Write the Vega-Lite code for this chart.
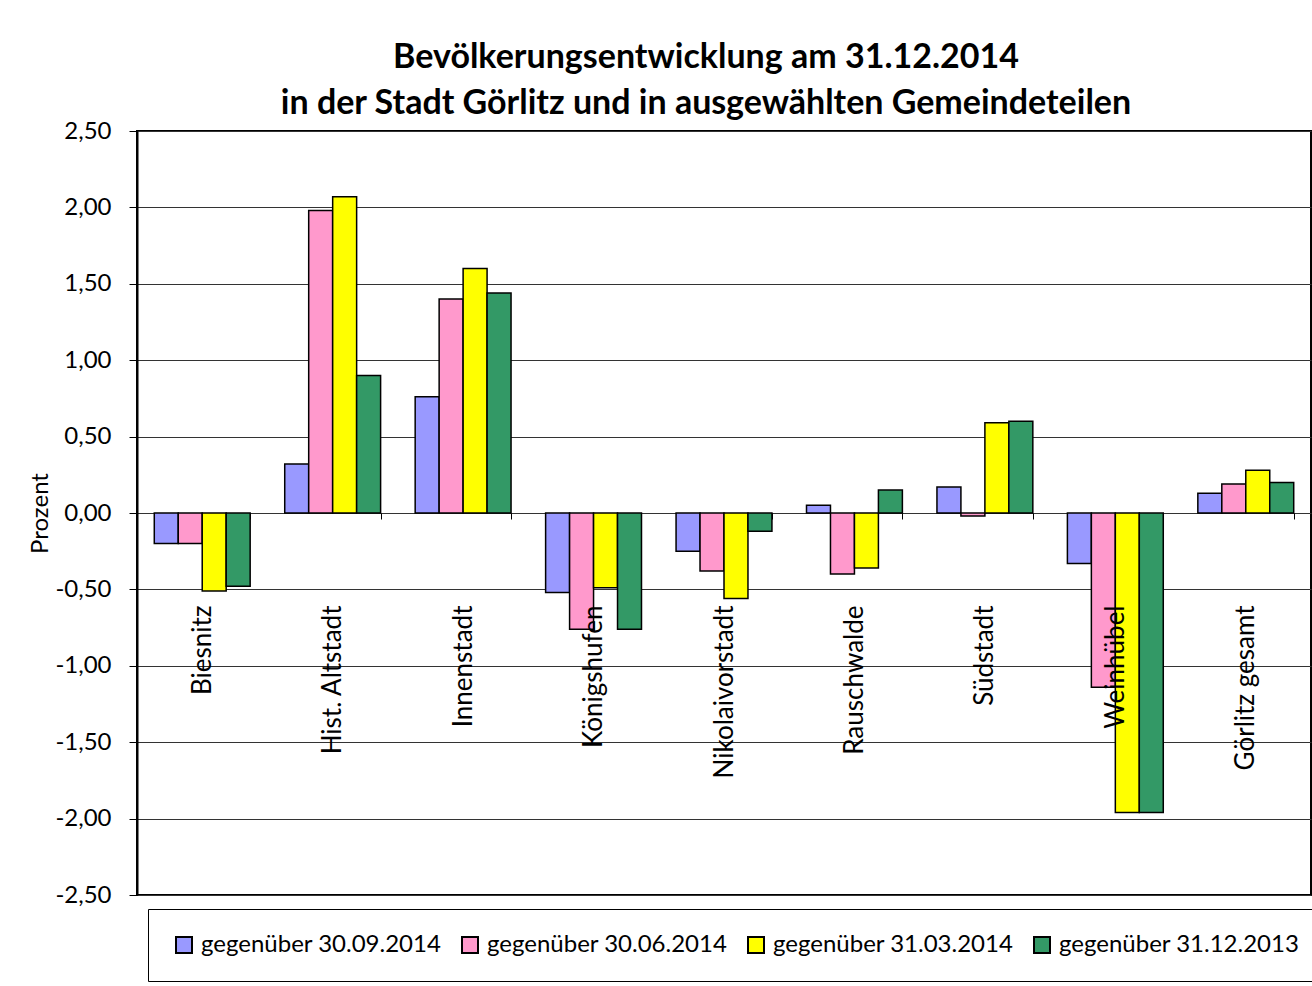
{
  "$schema": "https://vega.github.io/schema/vega-lite/v6.json",
  "autosize": {"type": "none"},
  "padding": {"left": 137, "top": 131, "right": 1, "bottom": 91},
  "width": 1174,
  "height": 764,
  "background": "white",
  "config": {
    "font": "Lato",
    "locale": {"number": {"decimal": ",", "thousands": ".", "grouping": [3], "currency": ["", " €"], "minus": "-"}},
    "view": {"stroke": "#000", "strokeWidth": 2}
  },
  "title": {
    "text": ["Bevölkerungsentwicklung am 31.12.2014", "in der Stadt Görlitz und in ausgewählten Gemeindeteilen"],
    "fontSize": 34,
    "fontWeight": "bold",
    "color": "#000",
    "lineHeight": 46,
    "anchor": "middle",
    "frame": "group",
    "dx": -18,
    "offset": -2
  },
  "data": {
    "values": [
      {"teil": "Biesnitz", "serie": "gegenüber 30.09.2014", "wert": -0.20},
      {"teil": "Biesnitz", "serie": "gegenüber 30.06.2014", "wert": -0.20},
      {"teil": "Biesnitz", "serie": "gegenüber 31.03.2014", "wert": -0.51},
      {"teil": "Biesnitz", "serie": "gegenüber 31.12.2013", "wert": -0.48},
      {"teil": "Hist. Altstadt", "serie": "gegenüber 30.09.2014", "wert": 0.32},
      {"teil": "Hist. Altstadt", "serie": "gegenüber 30.06.2014", "wert": 1.98},
      {"teil": "Hist. Altstadt", "serie": "gegenüber 31.03.2014", "wert": 2.07},
      {"teil": "Hist. Altstadt", "serie": "gegenüber 31.12.2013", "wert": 0.90},
      {"teil": "Innenstadt", "serie": "gegenüber 30.09.2014", "wert": 0.76},
      {"teil": "Innenstadt", "serie": "gegenüber 30.06.2014", "wert": 1.40},
      {"teil": "Innenstadt", "serie": "gegenüber 31.03.2014", "wert": 1.60},
      {"teil": "Innenstadt", "serie": "gegenüber 31.12.2013", "wert": 1.44},
      {"teil": "Königshufen", "serie": "gegenüber 30.09.2014", "wert": -0.52},
      {"teil": "Königshufen", "serie": "gegenüber 30.06.2014", "wert": -0.76},
      {"teil": "Königshufen", "serie": "gegenüber 31.03.2014", "wert": -0.49},
      {"teil": "Königshufen", "serie": "gegenüber 31.12.2013", "wert": -0.76},
      {"teil": "Nikolaivorstadt", "serie": "gegenüber 30.09.2014", "wert": -0.25},
      {"teil": "Nikolaivorstadt", "serie": "gegenüber 30.06.2014", "wert": -0.38},
      {"teil": "Nikolaivorstadt", "serie": "gegenüber 31.03.2014", "wert": -0.56},
      {"teil": "Nikolaivorstadt", "serie": "gegenüber 31.12.2013", "wert": -0.12},
      {"teil": "Rauschwalde", "serie": "gegenüber 30.09.2014", "wert": 0.05},
      {"teil": "Rauschwalde", "serie": "gegenüber 30.06.2014", "wert": -0.40},
      {"teil": "Rauschwalde", "serie": "gegenüber 31.03.2014", "wert": -0.36},
      {"teil": "Rauschwalde", "serie": "gegenüber 31.12.2013", "wert": 0.15},
      {"teil": "Südstadt", "serie": "gegenüber 30.09.2014", "wert": 0.17},
      {"teil": "Südstadt", "serie": "gegenüber 30.06.2014", "wert": -0.02},
      {"teil": "Südstadt", "serie": "gegenüber 31.03.2014", "wert": 0.59},
      {"teil": "Südstadt", "serie": "gegenüber 31.12.2013", "wert": 0.60},
      {"teil": "Weinhübel", "serie": "gegenüber 30.09.2014", "wert": -0.33},
      {"teil": "Weinhübel", "serie": "gegenüber 30.06.2014", "wert": -1.14},
      {"teil": "Weinhübel", "serie": "gegenüber 31.03.2014", "wert": -1.96},
      {"teil": "Weinhübel", "serie": "gegenüber 31.12.2013", "wert": -1.96},
      {"teil": "Görlitz gesamt", "serie": "gegenüber 30.09.2014", "wert": 0.13},
      {"teil": "Görlitz gesamt", "serie": "gegenüber 30.06.2014", "wert": 0.19},
      {"teil": "Görlitz gesamt", "serie": "gegenüber 31.03.2014", "wert": 0.28},
      {"teil": "Görlitz gesamt", "serie": "gegenüber 31.12.2013", "wert": 0.20}
    ]
  },
  "mark": {"type": "bar", "stroke": "#000", "strokeWidth": 1.5, "opacity": 1},
  "encoding": {
    "x": {
      "field": "teil",
      "type": "nominal",
      "sort": null,
      "scale": {"paddingInner": 0.265, "paddingOuter": 0.1325},
      "axis": {
        "title": null,
        "orient": "bottom",
        "offset": -382,
        "domain": false,
        "tickBand": "extent",
        "tickSize": 6,
        "tickColor": "#000",
        "labelAngle": -90,
        "labelAlign": "right",
        "labelBaseline": "middle",
        "labelPadding": 86,
        "labelFontSize": 26,
        "labelLimit": 300,
        "labelColor": "#000",
        "zindex": 1
      }
    },
    "xOffset": {
      "field": "serie",
      "type": "nominal",
      "sort": ["gegenüber 30.09.2014", "gegenüber 30.06.2014", "gegenüber 31.03.2014", "gegenüber 31.12.2013"]
    },
    "y": {
      "field": "wert",
      "type": "quantitative",
      "scale": {"domain": [-2.5, 2.5], "nice": false, "zero": false},
      "axis": {
        "title": "Prozent",
        "titleFontSize": 24,
        "titleFontWeight": "normal",
        "titleColor": "#000",
        "titlePadding": 2,
        "values": [-2.5, -2, -1.5, -1, -0.5, 0, 0.5, 1, 1.5, 2, 2.5],
        "format": ".2f",
        "labelFontSize": 24,
        "labelColor": "#000",
        "labelPadding": 18,
        "tickSize": 8,
        "tickColor": "#000",
        "domainColor": "#000",
        "domainWidth": 2,
        "grid": true,
        "gridColor": "#333",
        "gridWidth": 1
      }
    },
    "color": {
      "field": "serie",
      "type": "nominal",
      "scale": {
        "domain": ["gegenüber 30.09.2014", "gegenüber 30.06.2014", "gegenüber 31.03.2014", "gegenüber 31.12.2013"],
        "range": ["#9999FF", "#FF99CC", "#FFFF00", "#339966"]
      },
      "legend": {
        "title": null,
        "orient": "none",
        "legendX": 11,
        "legendY": 778,
        "direction": "horizontal",
        "columns": 4,
        "symbolType": "square",
        "symbolSize": 256,
        "symbolStrokeColor": "#000",
        "symbolStrokeWidth": 2,
        "symbolOpacity": 1,
        "labelFontSize": 24,
        "labelLimit": 400,
        "labelColor": "#000",
        "labelOffset": 5,
        "columnPadding": 16,
        "padding": 24,
        "strokeColor": "#000",
        "fillColor": "white"
      }
    }
  }
}
